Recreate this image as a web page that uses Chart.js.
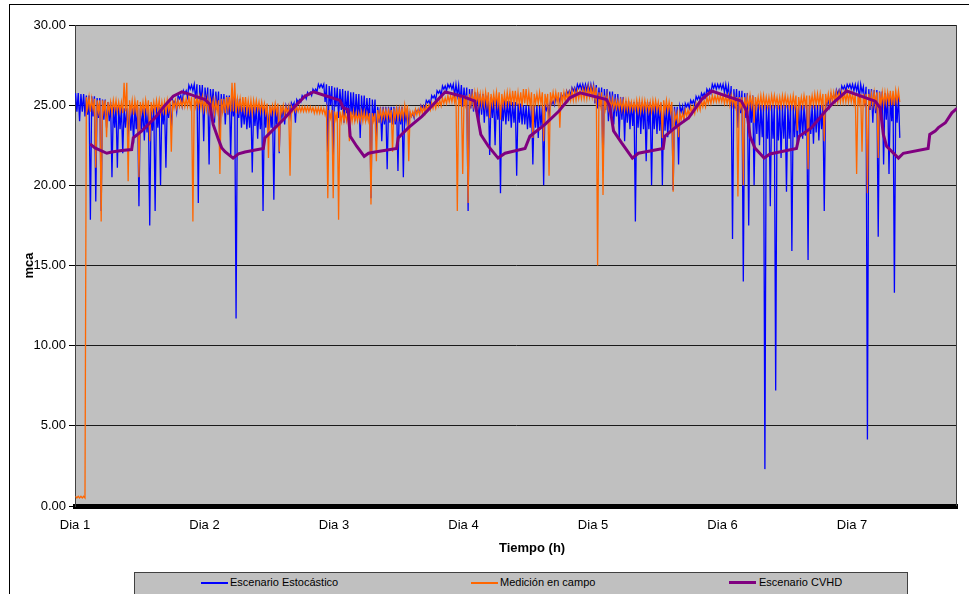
<!DOCTYPE html>
<html><head><meta charset="utf-8">
<script src="https://cdn.jsdelivr.net/npm/chart.js"></script>
<style>
html,body{margin:0;padding:0;background:#fff;width:969px;height:594px;overflow:hidden;font-family:"Liberation Sans",Arial,sans-serif;}
#frame{position:absolute;left:9px;top:4px;width:1200px;height:800px;border:1px solid #000;}
#c{position:absolute;left:0;top:0;}
#xtitle{position:absolute;left:499px;top:540px;font:bold 13px "Liberation Sans",Arial,sans-serif;line-height:15px;color:#000;white-space:nowrap;}
#legend{position:absolute;left:134px;top:572px;width:774px;height:40px;background:#c0c0c0;border:1px solid #404040;box-sizing:border-box;}
.lt{position:absolute;top:3px;font:11px "Liberation Sans",Arial,sans-serif;line-height:13px;white-space:nowrap;color:#000;}
.ll{position:absolute;}
</style></head>
<body>
<div id="frame"></div>
<canvas id="c" width="969" height="594" style="width:969px;height:594px"></canvas>
<div id="xtitle">Tiempo (h)</div>
<div id="legend"></div>
<script>
// ---- data: hourly bins ----
// Hi = top of the trace in that hour, Band = bottom of its dense part, Lo = deepest spike
const dayLabels = ['Dia 1','Dia 2','Dia 3','Dia 4','Dia 5','Dia 6','Dia 7'];
const dayHours = [0,24,48,72,96,120,144];
const seriesNames = ['Escenario Estocástico','Medición en campo','Escenario CVHD'];
const seriesColors = ['#0000ff','#ff6600','#800080'];

const blueHi = [
25.75,25.7,25.6,25.55,25.45,25.35,25.2,24.9,24.9,24.8,24.8,24.9,
24.8,24.8,24.8,24.9,24.9,25.1,25.3,25.6,25.9,26.25,26.3,26.25,
26.1,26.0,25.85,25.7,25.6,25.5,25.4,24.9,24.9,24.9,24.9,24.9,
24.9,24.9,24.9,24.95,25.15,25.35,25.6,25.8,26.0,26.3,26.3,26.2,
26.1,26.0,25.9,25.8,25.7,25.6,25.45,25.35,24.9,24.9,24.9,24.9,
24.9,24.8,24.5,24.7,25.0,25.3,25.6,25.9,26.2,26.3,26.3,26.25,
26.1,26.0,25.8,25.7,25.6,25.5,25.4,25.3,25.25,25.2,25.1,25.0,
24.95,24.95,24.95,25.0,25.25,25.5,25.7,25.9,26.1,26.3,26.3,26.3,
26.25,26.1,26.0,25.85,25.7,25.5,25.25,25.2,25.2,25.2,25.2,25.1,
25.1,25.0,25.0,24.9,24.95,25.1,25.3,25.55,25.75,26.0,26.3,26.3,
26.3,26.2,26.0,25.9,25.75,25.6,25.1,25.0,25.0,25.0,25.0,25.0,
25.0,25.0,25.0,25.0,25.0,25.0,25.0,25.3,25.65,25.95,26.2,26.3,
26.3,26.3,26.15,26.0,25.95,25.85,25.75,25.65,25.6];
const blueBand = [
24.6,24.6,24.4,24.3,24.2,24.1,24.0,23.6,23.5,23.6,23.4,23.5,
23.5,23.3,23.4,23.6,23.8,24.2,25.1,25.4,25.7,26.0,25.4,25.2,
25.0,24.9,24.7,24.5,24.4,24.3,24.2,23.8,23.6,23.7,23.5,23.6,
23.6,23.8,24.2,24.6,24.95,25.2,25.45,25.65,25.85,26.1,25.2,25.0,
24.9,24.7,24.5,24.4,24.3,24.2,24.1,24.0,23.9,23.8,23.9,23.8,
23.8,24.0,24.3,24.55,24.85,25.15,25.45,25.75,26.0,26.1,25.6,25.2,
25.0,24.8,24.6,24.4,24.3,24.2,24.1,24.0,24.0,23.9,23.9,23.8,
23.6,23.6,23.7,24.7,25.05,25.3,25.5,25.7,25.9,26.05,25.9,25.8,
25.1,24.9,24.7,24.5,24.3,24.1,23.9,23.7,23.6,23.5,23.5,23.5,
23.4,23.4,23.3,23.5,24.6,24.9,25.1,25.35,25.55,25.8,26.05,26.05,
25.8,25.1,24.8,24.5,24.2,23.9,23.2,23.0,22.9,22.9,22.8,22.9,
22.9,23.0,23.0,23.1,23.2,23.3,23.5,25.0,25.4,25.7,26.0,26.1,
25.9,25.4,25.0,24.7,24.5,24.3,24.1,24.0,23.9];
const blueLo = [
24.0,24.3,17.85,19.0,18.4,23.6,20.5,21.1,22.0,23.0,22.6,18.7,
22.8,17.5,18.4,20.0,21.1,23.5,24.6,25.0,25.5,25.9,18.9,22.75,
21.3,23.9,22.7,23.8,21.8,11.7,23.6,23.5,20.8,22.9,18.4,23.4,
19.1,22.0,23.8,24.3,23.9,25.2,25.4,25.6,25.85,26.1,22.1,21.7,
24.2,23.9,23.5,24.0,22.96,24.0,19.2,22.75,22.75,21.0,23.8,20.9,
20.5,23.8,24.2,24.5,24.8,25.0,25.3,25.6,25.9,26.0,25.6,24.9,
18.4,24.6,24.0,23.9,21.9,22.5,19.5,23.8,23.6,20.6,23.8,23.5,
21.3,22.96,20.0,24.3,25.0,25.2,25.4,25.6,25.8,26.0,25.9,25.8,
24.8,20.9,24.0,23.8,22.96,22.75,23.5,17.75,23.2,21.5,20.0,23.2,
20.0,23.0,19.7,21.3,24.0,24.8,25.0,25.3,25.5,25.75,26.0,26.0,
25.7,16.65,23.6,14.0,17.5,20.0,22.5,2.3,18.7,7.2,21.7,19.6,
15.9,22.5,22.9,15.35,22.6,22.8,18.4,24.9,25.3,25.6,25.9,26.0,
25.9,25.8,4.15,23.9,16.8,21.3,20.7,13.3,22.96];

const orangeHi = [
0.6,0.6,25.5,25.4,25.3,25.3,25.2,25.3,25.2,26.4,25.3,25.3,
25.2,25.3,25.2,25.3,25.2,25.3,25.3,25.3,25.4,25.5,25.5,25.5,
25.4,25.3,25.3,25.4,25.5,26.4,25.4,25.5,25.3,25.3,25.2,25.1,
25.0,25.1,25.0,24.9,24.9,24.9,24.9,24.9,24.85,24.85,24.8,24.7,
24.6,24.6,24.5,24.6,24.5,24.6,24.5,24.5,24.7,24.7,24.7,24.8,
24.8,25.0,24.6,24.75,24.9,25.0,25.15,25.3,25.45,25.6,25.7,25.6,
25.6,25.7,25.8,25.7,25.8,25.7,25.8,25.7,25.8,25.9,25.8,26.0,
25.8,25.7,25.8,25.7,25.8,25.8,25.8,25.8,25.9,25.9,26.0,26.1,
26.1,25.8,25.6,25.4,25.3,25.3,25.3,25.2,25.3,25.3,25.2,25.3,
25.2,25.3,25.2,24.5,24.5,24.7,24.9,25.1,25.3,25.5,25.6,25.6,
25.6,25.6,25.5,25.5,25.5,25.6,25.5,25.6,25.5,25.6,25.5,25.6,
25.5,25.6,25.5,25.6,25.6,25.7,25.7,25.7,25.8,25.8,25.8,25.8,
25.7,25.7,25.7,25.7,25.8,25.8,25.8,25.9,25.9];
const orangeBand = [
0.5,0.5,24.8,24.7,24.6,24.6,24.6,24.7,24.6,24.6,24.6,24.6,
24.6,24.6,24.6,24.7,24.6,24.7,24.8,24.9,24.9,24.9,24.9,24.8,
24.7,24.6,24.6,24.6,24.7,24.6,24.7,24.7,24.6,24.7,24.6,24.5,
24.5,24.5,24.5,24.5,24.6,24.6,24.6,24.6,24.5,24.5,24.4,24.2,
24.1,24.0,24.0,24.0,24.0,24.0,24.0,24.0,24.1,24.2,24.2,24.2,
24.2,24.3,24.3,24.4,24.5,24.7,24.8,24.95,25.1,25.2,25.2,25.1,
25.0,25.0,25.1,25.0,25.0,25.0,25.0,25.0,25.1,25.1,25.0,25.1,
25.0,25.1,25.1,25.1,25.2,25.2,25.2,25.3,25.3,25.4,25.4,25.5,
25.4,25.0,24.8,24.8,24.8,24.7,24.7,24.7,24.6,24.7,24.6,24.7,
24.6,24.6,24.6,24.1,24.1,24.3,24.5,24.7,24.9,25.1,25.2,25.2,
25.1,25.0,24.9,24.9,24.8,24.9,24.9,24.9,24.9,25.0,24.9,25.0,
24.9,24.9,24.9,25.0,25.0,25.0,25.0,25.1,25.2,25.2,25.2,25.2,
25.1,25.1,25.1,25.0,25.0,25.0,25.1,25.0,25.2];
const orangeLo = [
0.5,0.5,24.6,21.1,17.75,23.0,24.5,24.6,24.5,20.25,24.4,20.5,
24.5,22.75,24.6,24.5,24.4,22.1,24.8,24.9,24.9,17.75,24.9,24.7,
24.6,24.5,20.7,24.5,24.6,24.5,24.6,24.6,24.5,24.7,24.6,21.7,
24.5,22.1,24.4,20.6,24.6,24.6,24.6,24.6,24.5,24.5,19.2,19.2,
17.85,24.0,22.75,24.0,24.0,24.0,18.8,21.5,24.1,24.2,22.1,24.2,
24.2,21.5,24.3,24.4,24.5,24.7,24.8,24.95,25.1,25.2,18.4,20.7,
18.9,25.0,25.0,25.0,24.2,25.0,24.1,25.0,25.0,25.0,24.9,25.0,
22.96,25.1,22.75,20.6,25.2,23.6,25.2,25.3,25.3,25.4,25.4,25.5,
15.0,19.4,24.8,24.8,24.8,24.7,24.7,24.7,24.6,24.7,24.6,24.7,
22.96,24.6,19.6,23.0,24.1,24.3,24.5,24.7,24.9,25.1,25.2,25.2,
25.1,25.0,19.3,20.0,24.8,23.9,24.9,24.9,24.9,25.0,24.9,25.0,
24.9,23.4,24.9,21.0,25.0,25.0,22.75,25.1,25.2,25.2,25.2,25.2,
20.7,22.1,19.5,25.0,21.7,25.0,25.1,25.0,25.2];

const cvhdHours = [2.8,3.7,5.9,6.8,8.65,10.5,10.8,12.4,13.6,14.8,16.7,18.2,19.8,21.3,24.1,25.0,25.6,26.6,27.2,27.8,29.3,30.3,31.5,34.9,35.2,37.1,38.9,40.8,42.6,44.2,46.3,49.1,49.7,50.6,51.0,52.2,53.6,54.4,55.6,59.6,59.9,61.8,64.3,66.7,68.6,71.7,74.1,75.2,76.6,78.4,79.7,83.4,84.3,87.1,89.6,91.7,93.6,98.5,99.1,99.8,101.3,103.3,104.4,109.0,109.3,111.2,113.7,116.1,118.0,123.5,124.5,125.1,126.0,127.7,128.8,133.7,134.2,136.5,139.0,140.5,143.0,148.3,149.2,149.8,150.4,152.6,153.5,158.1,158.4,159.4,160.0,161.3,162.5,163.45];
const cvhdValues = [22.58,22.33,22.0,22.08,22.17,22.23,22.96,23.4,23.8,24.2,25.0,25.56,25.83,25.67,25.35,25.04,23.8,22.85,22.33,22.1,21.7,21.96,22.08,22.3,22.96,23.6,24.2,24.94,25.56,25.83,25.6,25.3,24.83,24.73,23.06,22.44,21.81,22.0,22.08,22.3,22.96,23.6,24.3,25.15,25.83,25.56,25.25,23.17,22.44,21.7,22.0,22.3,23.06,23.8,24.6,25.46,25.77,25.35,24.94,23.4,22.65,21.7,22.0,22.3,23.06,23.6,24.2,25.35,25.88,25.25,24.6,23.06,22.33,21.7,21.96,22.3,23.06,23.6,24.6,25.15,25.88,25.25,24.83,23.17,22.44,21.7,22.0,22.3,23.17,23.38,23.6,23.9,24.52,24.8];

// ---- build line points: within each hour the trace visits top, band bottom, top, deepest spike ----
function envelope(hi, band, lo){
  const pts = [];
  for (let i = 0; i < hi.length; i++){
    pts.push({x: i + 0.1, y: hi[i]});
    pts.push({x: i + 0.35, y: band[i]});
    pts.push({x: i + 0.6, y: hi[i]});
    pts.push({x: i + 0.85, y: lo[i]});
  }
  return pts;
}
const cvhdPts = cvhdHours.map((h, i) => ({x: h, y: cvhdValues[i]}));

Chart.defaults.font.family = '"Liberation Sans", Arial, sans-serif';
Chart.defaults.color = '#000';

const plotBg = {
  id: 'plotBg',
  beforeDraw(chart){
    const {ctx, chartArea: a} = chart;
    ctx.save();
    ctx.fillStyle = '#c0c0c0';
    ctx.fillRect(a.left, a.top, a.right - a.left, a.bottom - a.top);
    ctx.restore();
  },
  beforeDatasetsDraw(chart){
    const {ctx, chartArea: a} = chart;
    ctx.save();
    ctx.strokeStyle = '#404040';
    ctx.lineWidth = 1;
    ctx.beginPath();
    ctx.moveTo(a.right - 0.5, a.top);
    ctx.lineTo(a.right - 0.5, a.bottom);
    ctx.stroke();
    ctx.restore();
  }
};

const chart = new Chart(document.getElementById('c'), {
  type: 'line',
  data: {
    datasets: [
      {label: seriesNames[0], data: envelope(blueHi, blueBand, blueLo), borderColor: seriesColors[0], borderWidth: 1.3, pointRadius: 0, order: 3},
      {label: seriesNames[1], data: envelope(orangeHi, orangeBand, orangeLo), borderColor: seriesColors[1], borderWidth: 1.3, pointRadius: 0, order: 2},
      {label: seriesNames[2], data: cvhdPts, borderColor: seriesColors[2], borderWidth: 3, pointRadius: 0, order: 1}
    ]
  },
  options: {
    responsive: false,
    animation: false,
    devicePixelRatio: 1,
    layout: {padding: {left: 0, top: 25, right: 12, bottom: 0}},
    plugins: {legend: {display: false}, tooltip: {enabled: false}},
    scales: {
      x: {
        type: 'linear', min: 0, max: 163.45,
        afterBuildTicks: s => { s.ticks = dayHours.map(v => ({value: v})); },
        ticks: {callback: (v, i) => dayLabels[i], font: {size: 13}, color: '#000', padding: 12, maxRotation: 0, autoSkip: false},
        grid: {display: false, drawTicks: false},
        border: {display: true, color: '#000', width: 5},
        afterFit: s => { s.height = 88; }
      },
      y: {
        min: 0, max: 30,
        ticks: {stepSize: 5, callback: v => Number(v).toFixed(2), font: {size: 13}, color: '#000', padding: 3},
        grid: {color: '#1a1a1a', lineWidth: 1, drawTicks: true, tickLength: 6, tickColor: '#000'},
        border: {display: true, color: '#404040', width: 1},
        title: {display: true, text: 'mca', font: {size: 13, weight: 'bold'}, color: '#000', padding: {top: 22, bottom: 0}},
        afterFit: s => { s.width = 75; }
      }
    }
  },
  plugins: [plotBg]
});

// ---- HTML legend built from the datasets ----
const legendLine = [66, 336, 594];
const legendText = [95, 365, 624];
const lg = document.getElementById('legend');
chart.data.datasets.forEach((ds, i) => {
  const ln = document.createElement('div');
  ln.className = 'll';
  const w = ds.borderWidth >= 3 ? 3 : 2;
  ln.style.cssText = `left:${legendLine[i]}px;top:${9.7 - w/2}px;width:27px;height:${w}px;background:${ds.borderColor}`;
  lg.appendChild(ln);
  const tx = document.createElement('div');
  tx.className = 'lt';
  tx.style.left = legendText[i] + 'px';
  tx.textContent = ds.label;
  lg.appendChild(tx);
});
</script>
</body></html>
